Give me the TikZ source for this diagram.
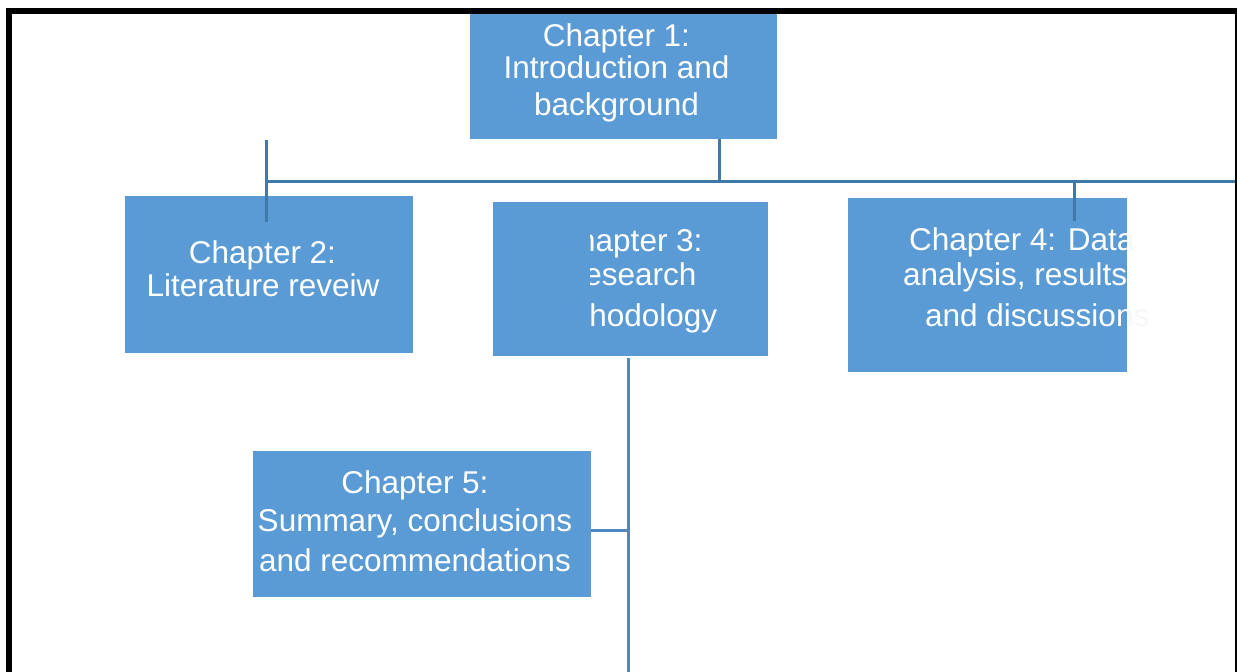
\documentclass[tikz,border=0pt]{standalone}
\usepackage{fontspec}
\setmainfont{Liberation Sans}
\definecolor{boxblue}{HTML}{5B9BD5}
\definecolor{linkdark}{HTML}{4178AA}
\definecolor{linklight}{HTML}{4F87C3}
\begin{document}
\begin{tikzpicture}[x=1pt,y=-1pt,
  chbox/.style={fill=boxblue, draw=none, inner sep=0pt, anchor=north west},
  txt/.style={font=\fontsize{31.5}{36}\selectfont, text=white, anchor=base, inner sep=0pt},
  ghost/.style={txt, text=black!3, anchor=base west},
  link/.style={draw=linkdark, line width=3pt},
  linklt/.style={draw=linklight, line width=3pt}]

\useasboundingbox (0,0) rectangle (1237,672);

% overflow of the chapter 4 label, barely visible outside its box
\node[ghost] (g4a) at (909,250) {Chapter 4: Data};
\node[ghost] (g4b) at (903,285) {analysis, results};
\node[ghost] (g4c) at (925,326.7) {and discussions};

% chapter boxes
\node[chbox, minimum width=307pt, minimum height=125pt] (b1) at (470,14) {};
\node[chbox, minimum width=288pt, minimum height=157pt] (b2) at (125,196) {};
\node[chbox, minimum width=275pt, minimum height=154pt] (b3) at (492.5,202) {};
\node[chbox, minimum width=279pt, minimum height=174pt] (b4) at (848,198) {};
\node[chbox, minimum width=338pt, minimum height=146pt] (b5) at (253,451) {};

% labels
\node[txt] (t1a) at (616.5,46.7) {Chapter 1:};
\node[txt] (t1b) at (616.5,78.3) {Introduction and};
\node[txt] (t1c) at (616.5,115) {background};

\node[txt] (t2a) at (262.5,263.3) {Chapter 2:};
\node[txt] (t2b) at (263,296.7) {Literature reveiw};

\begin{scope}
  \clip (590.5,202) rectangle (767.5,356);
  \node[txt] (t3a) at (629,251.7) {Chapter 3:};
  \node[txt] (t3b) at (629,285) {Research};
  \node[txt] (t3c) at (627,326) {methodology};
\end{scope}

\begin{scope}
  \clip (848,198) rectangle (1127,372);
  \node[txt, anchor=base west] (t4a) at (909,250) {Chapter 4: Data};
  \node[txt, anchor=base west] (t4b) at (903,285) {analysis, results};
  \node[txt, anchor=base west] (t4c) at (925,326.7) {and discussions};
\end{scope}

\node[txt] (t5a) at (415,493.3) {Chapter 5:};
\node[txt] (t5b) at (415,531.7) {Summary, conclusions};
\node[txt] (t5c) at (415,571.7) {and recommendations};

% connector junctions and free ends
\coordinate (j1) at (719,181.3);
\coordinate (hubL) at (266,181.3);
\coordinate (hubR) at (1240,181.3);
\coordinate (s2top) at (266,140);
\coordinate (s2tip) at (266,221.5);
\coordinate (j4) at (1074,181.3);
\coordinate (s4tip) at (1074,221);
\coordinate (j5) at (628.5,530);
\coordinate (spineEnd) at (628.5,675);

% upper tree
\draw[link] (b1.south -| j1) -- (j1);
\draw[link] (hubL) -- (hubR);
\draw[link] (s2top) -- (s2tip);
\draw[link] (j4) -- (s4tip);

% lower tree
\draw[linklt] ([yshift=-1.5pt]b3.south -| j5) -- (spineEnd);
\draw[linklt] (b5.east |- j5) -- (j5);

% page frame
\fill[black] (6,8) rectangle (12,675);
\fill[black] (6,8) rectangle (1237,14);
\draw[black, line width=1.5pt] (1236.2,8) -- (1236.2,675);
\end{tikzpicture}
\end{document}
